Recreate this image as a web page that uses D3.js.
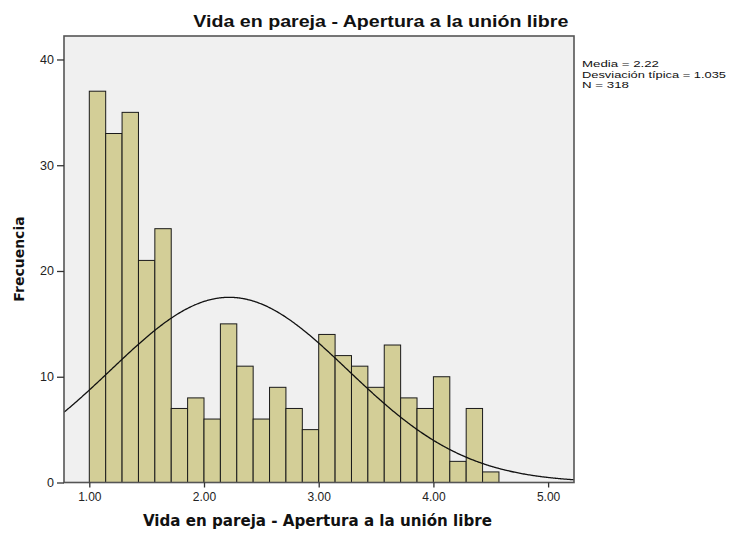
<!DOCTYPE html>
<html>
<head>
<meta charset="utf-8">
<script src="https://cdn.jsdelivr.net/npm/d3@7"></script>
<style>
  html, body { margin: 0; padding: 0; background: #ffffff; }
  svg { display: block; }
</style>
</head>
<body>
<svg id="chart" width="734" height="534"></svg>
<script>
// ---- data ----
const binStarts = [1.0000, 1.1429, 1.2857, 1.4286, 1.5714, 1.7143, 1.8571, 2.0000, 2.1429, 2.2857,
                   2.4286, 2.5714, 2.7143, 2.8571, 3.0000, 3.1429, 3.2857, 3.4286, 3.5714, 3.7143,
                   3.8571, 4.0000, 4.1429, 4.2857, 4.4286];
const binWidth = 1 / 7;
const counts = [37, 33, 35, 21, 24, 7, 8, 6, 15, 11, 6, 9, 7, 5, 14, 12, 11, 9, 13, 8, 7, 10, 2, 7, 1];
const xTicks = [1, 2, 3, 4, 5];
const yTicks = [0, 10, 20, 30, 40];
const statLines = ["Media = 2.22", "Desviación típica = 1.035", "N = 318"];
const stats = { mean: 2.22, sd: 1.035, n: 318 };
const titleText = "Vida en pareja - Apertura a la unión libre";
const xLabelText = "Vida en pareja - Apertura a la unión libre";
const yLabelText = "Frecuencia";

// ---- layout ----
const plot = { left: 64, top: 36, right: 574, bottom: 482.5 };
const svg = d3.select("#chart");

const x = d3.scaleLinear().domain([0.7794, 5.2257]).range([plot.left, plot.right]);
const y = d3.scaleLinear().domain([0, 42.22]).range([plot.bottom, plot.top]);

// background
svg.append("rect")
  .attr("x", plot.left).attr("y", plot.top)
  .attr("width", plot.right - plot.left).attr("height", plot.bottom - plot.top)
  .attr("fill", "#f0f0f0");

svg.append("clipPath").attr("id", "clip")
  .append("rect")
  .attr("x", plot.left).attr("y", plot.top)
  .attr("width", plot.right - plot.left).attr("height", plot.bottom - plot.top);

// bars
const bars = binStarts.map((s, i) => ({ x0: s, x1: s + binWidth, c: counts[i] }));
svg.append("g").selectAll("rect").data(bars).join("rect")
  .attr("x", d => x(d.x0))
  .attr("y", d => y(d.c))
  .attr("width", d => x(d.x1) - x(d.x0))
  .attr("height", d => y(0) - y(d.c))
  .attr("fill", "#d3ce97")
  .attr("stroke", "#1a1a1a")
  .attr("stroke-width", 1);

// normal curve from the stated statistics
const scaleN = stats.n * binWidth / (stats.sd * Math.sqrt(2 * Math.PI));
const xs = d3.range(0.7794, 5.2257, 0.01).concat([5.2257]);
const curve = xs.map(v => [v, scaleN * Math.exp(-0.5 * Math.pow((v - stats.mean) / stats.sd, 2))]);
svg.append("path")
  .attr("clip-path", "url(#clip)")
  .attr("d", d3.line().x(d => x(d[0])).y(d => y(d[1])).curve(d3.curveBasis)(curve))
  .attr("fill", "none")
  .attr("stroke", "#111")
  .attr("stroke-width", 1.3);

// frame
svg.append("rect")
  .attr("x", plot.left).attr("y", plot.top)
  .attr("width", plot.right - plot.left).attr("height", plot.bottom - plot.top)
  .attr("fill", "none")
  .attr("stroke", "#555")
  .attr("stroke-width", 1.6);

// y axis
const yAxis = d3.axisLeft(y).tickValues(yTicks).tickFormat(d3.format("d")).tickSizeInner(7).tickSizeOuter(0).tickPadding(3);
const gy = svg.append("g").attr("transform", `translate(${plot.left},0)`).call(yAxis);
gy.select(".domain").remove();
gy.selectAll(".tick line").attr("stroke", "#333").attr("stroke-width", 1.3);
gy.selectAll(".tick text").attr("font-family", "Liberation Sans, Arial, sans-serif").attr("font-size", 12.5).attr("fill", "#222");

// x axis
const xAxis = d3.axisBottom(x).tickValues(xTicks).tickFormat(d3.format(".2f")).tickSizeInner(5).tickSizeOuter(0).tickPadding(5);
const gx = svg.append("g").attr("transform", `translate(0,${plot.bottom})`).call(xAxis);
gx.select(".domain").remove();
gx.selectAll(".tick line").attr("stroke", "#333").attr("stroke-width", 1.3);
gx.selectAll(".tick text").attr("font-family", "Liberation Sans, Arial, sans-serif").attr("font-size", 12).attr("fill", "#222");

// title
svg.append("text")
  .attr("x", 380.8).attr("y", 27)
  .attr("text-anchor", "middle")
  .attr("font-family", "Liberation Sans, Arial, sans-serif")
  .attr("font-weight", "bold")
  .attr("font-size", 16)
  .attr("textLength", 375).attr("lengthAdjust", "spacingAndGlyphs")
  .attr("fill", "#111")
  .text(titleText);

// x label
svg.append("text")
  .attr("x", 317.4).attr("y", 526)
  .attr("text-anchor", "middle")
  .attr("font-family", "DejaVu Sans, sans-serif")
  .attr("font-weight", "bold")
  .attr("font-size", 15)
  .attr("textLength", 349).attr("lengthAdjust", "spacingAndGlyphs")
  .attr("fill", "#111")
  .text(xLabelText);

// y label
svg.append("text")
  .attr("transform", "translate(24,259) rotate(-90)")
  .attr("text-anchor", "middle")
  .attr("font-family", "DejaVu Sans, sans-serif")
  .attr("font-weight", "bold")
  .attr("font-size", 14)
  .attr("fill", "#111")
  .text(yLabelText);

// stats text
const statLengths = [77, 144, 47];
svg.append("g").selectAll("text").data(statLines).join("text")
  .attr("x", 582)
  .attr("y", (d, i) => 67 + i * 10.5)
  .attr("font-family", "Liberation Sans, Arial, sans-serif")
  .attr("font-size", 9.5)
  .attr("fill", "#111")
  .attr("textLength", (d, i) => statLengths[i]).attr("lengthAdjust", "spacingAndGlyphs")
  .text(d => d);
</script>
</body>
</html>
